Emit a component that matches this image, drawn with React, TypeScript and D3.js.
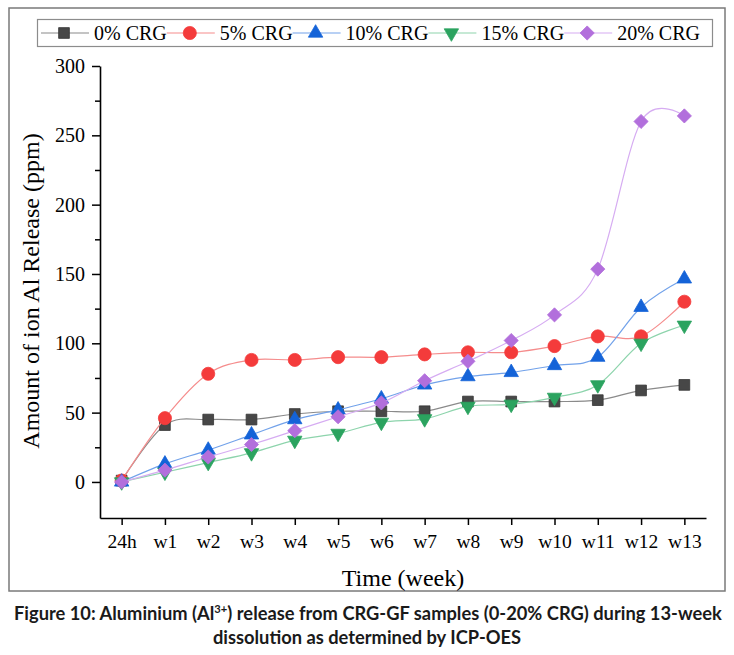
import { useEffect, useRef } from 'react';
import * as d3 from 'd3';

// values (ppm)
const weeks = ['24h', 'w1', 'w2', 'w3', 'w4', 'w5', 'w6', 'w7', 'w8', 'w9', 'w10', 'w11', 'w12', 'w13'];
const crg0 = [1, 41, 45, 45, 49, 51, 51, 51, 58, 58, 58, 59, 66, 70];
const crg5 = [1, 46, 78, 88, 88, 90, 90, 92, 93.5, 93.5, 98, 105, 105, 130];
const crg10 = [0, 13, 23, 34, 45, 52, 60, 70, 76, 79, 84, 90, 126, 146.5];
const crg15 = [0, 7, 14, 21, 30, 35, 43, 45.5, 54.5, 56, 61, 70, 100, 113];
const crg20 = [0, 8.5, 18, 27, 37, 47, 57, 73, 87, 102, 120.5, 153.5, 260, 264];
const seriesNames = ['0% CRG', '5% CRG', '10% CRG', '15% CRG', '20% CRG'];
const seriesValues = [crg0, crg5, crg10, crg15, crg20];
const yTicks = [0, 50, 100, 150, 200, 250, 300];
const yMinorTicks = [25, 75, 125, 175, 225, 275];

const looks = [
  { shape: d3.symbolSquare, size: 115, rotate: 0, fill: '#474747', stroke: '#353535', line: '#8a8a8a' },
  { shape: d3.symbolCircle, size: 135, rotate: 0, fill: '#f43b3b', stroke: '#f43b3b', line: '#f58c8c' },
  { shape: d3.symbolTriangle, size: 90, rotate: 0, fill: '#1463d8', stroke: '#1463d8', line: '#72a2ea' },
  { shape: d3.symbolTriangle, size: 90, rotate: 180, fill: '#2ba35f', stroke: '#2ba35f', line: '#8dd4ac' },
  { shape: d3.symbolSquare, size: 100, rotate: 45, fill: '#b26fdc', stroke: '#b26fdc', line: '#d6acf2' },
];

const serif = '"Liberation Serif", "Times New Roman", serif';

export default function App() {
  const svgRef = useRef<SVGSVGElement>(null);

  useEffect(() => {
    if (!svgRef.current) return;
    const svg = d3.select(svgRef.current);
    svg.selectAll('*').remove();

    svg.append('rect').attr('width', 734).attr('height', 655).attr('fill', '#fff');

    // outer frame
    svg.append('rect')
      .attr('x', 9).attr('y', 8).attr('width', 716).attr('height', 583)
      .attr('fill', 'none').attr('stroke', '#7a7a7a').attr('stroke-width', 1.5);

    const x = d3.scalePoint<string>().domain(weeks).range([100, 706]).padding(0.5);
    const y = d3.scaleLinear().domain([-26, 300]).range([518, 66]);

    // axes
    const gx = svg.append('g')
      .attr('transform', 'translate(0,518)')
      .call(d3.axisBottom(x).tickSize(7).tickSizeOuter(0).tickPadding(9));
    const gy = svg.append('g')
      .attr('transform', 'translate(100,0)')
      .call(d3.axisLeft(y).tickValues(yTicks).tickSize(8).tickSizeOuter(0).tickPadding(7));
    svg.append('g')
      .attr('transform', 'translate(100,0)')
      .call(d3.axisLeft(y).tickValues(yMinorTicks).tickSize(5).tickFormat(() => ''))
      .call(g => g.select('.domain').remove())
      .selectAll('line').attr('stroke-width', 1.5);

    [gx, gy].forEach(g => {
      g.select('.domain').attr('stroke-width', 1.6);
      g.selectAll('line').attr('stroke-width', 1.5);
      g.selectAll('text').attr('font-family', serif).attr('font-size', 20).attr('fill', '#000');
    });
    gx.selectAll('text').attr('font-size', 19.5);

    // axis titles
    svg.append('text')
      .attr('transform', 'translate(39,291) rotate(-90)')
      .attr('text-anchor', 'middle')
      .attr('font-family', serif).attr('font-size', 24)
      .text('Amount of ion Al Release (ppm)');
    svg.append('text')
      .attr('x', 403).attr('y', 586)
      .attr('text-anchor', 'middle')
      .attr('font-family', serif).attr('font-size', 24)
      .text('Time (week)');

    // series
    const line = d3.line<number>()
      .x((_, i) => x(weeks[i]) ?? 0)
      .y(d => y(d))
      .curve(d3.curveCardinal.tension(0));

    seriesValues.forEach((vals, s) => {
      const look = looks[s];
      const g = svg.append('g');
      g.append('path')
        .attr('d', line(vals))
        .attr('fill', 'none')
        .attr('stroke', look.line)
        .attr('stroke-width', 1.2);
      g.selectAll('path.pt')
        .data(vals)
        .join('path')
        .attr('class', 'pt')
        .attr('d', d3.symbol().type(look.shape).size(look.size)())
        .attr('transform', (d, i) => `translate(${x(weeks[i])},${y(d)}) rotate(${look.rotate})`)
        .attr('fill', look.fill)
        .attr('stroke', look.stroke)
        .attr('stroke-width', 0.8);
    });

    // legend
    svg.append('rect')
      .attr('x', 37.5).attr('y', 19.5).attr('width', 675).attr('height', 27)
      .attr('fill', '#fff').attr('stroke', '#8c8c8c').attr('stroke-width', 1.2);
    let lx = 41;
    seriesNames.forEach((name, s) => {
      const look = looks[s];
      const g = svg.append('g');
      g.append('line')
        .attr('x1', lx).attr('x2', lx + 48).attr('y1', 33).attr('y2', 33)
        .attr('stroke', look.line).attr('stroke-width', 1.2);
      g.append('path')
        .attr('d', d3.symbol().type(look.shape).size(look.size)())
        .attr('transform', `translate(${lx + 23},33) rotate(${look.rotate})`)
        .attr('fill', look.fill).attr('stroke', look.stroke).attr('stroke-width', 0.8);
      const t = g.append('text')
        .attr('x', lx + 53).attr('y', 40)
        .attr('font-family', serif).attr('font-size', 20)
        .text(name);
      lx += 53 + (t.node() as SVGTextElement).getComputedTextLength();
    });

    // caption
    const cap1 = svg.append('text')
      .attr('x', 14).attr('y', 620)
      .attr('font-family', 'Lato, sans-serif').attr('font-weight', 'bold').attr('font-size', 18)
      .attr('fill', '#1a1a1a');
    cap1.append('tspan').text('Figure 10: Aluminium (Al');
    cap1.append('tspan').attr('font-size', 11).attr('dy', -7).text('3+');
    cap1.append('tspan').attr('dy', 7).text(') release from CRG-GF samples (0-20% CRG) during 13-week');
    const w1 = (cap1.node() as SVGTextElement).getComputedTextLength();
    const k = 708 / w1;
    cap1.attr('font-size', 18 * k);
    cap1.select('tspan:nth-child(2)').attr('font-size', 11 * k);

    svg.append('text')
      .attr('x', 367).attr('y', 644)
      .attr('text-anchor', 'middle')
      .attr('font-family', 'Lato, sans-serif').attr('font-weight', 'bold').attr('font-size', 18 * k)
      .attr('fill', '#1a1a1a')
      .text('dissolution as determined by ICP-OES');
  }, []);

  return (
    <div style={{ position: 'absolute', left: 0, top: 0 }}>
      <svg ref={svgRef} width={734} height={655} style={{ display: 'block' }} />
    </div>
  );
}
